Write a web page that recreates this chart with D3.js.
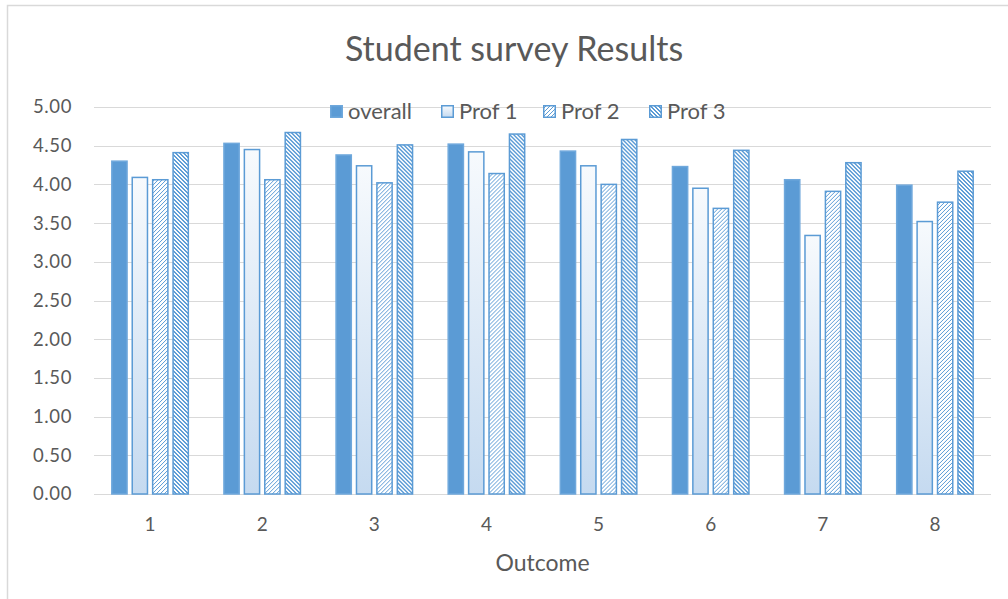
<!DOCTYPE html>
<html>
<head>
<meta charset="utf-8">
<script src="https://cdn.jsdelivr.net/npm/d3@7"></script>
<style>
  html, body { margin: 0; padding: 0; background: #fff; }
  svg { display: block; font-family: Lato, "Open Sans", sans-serif; }
</style>
</head>
<body>
<svg id="chart" width="1008" height="599"></svg>
<script>
// Survey outcomes and the mean score for each respondent group
const outcomes = ["1", "2", "3", "4", "5", "6", "7", "8"];
const seriesNames = ["overall", "Prof 1", "Prof 2", "Prof 3"];
const overall = [4.31, 4.54, 4.39, 4.53, 4.44, 4.24, 4.07, 4.00];
const prof1   = [4.10, 4.46, 4.25, 4.43, 4.25, 3.96, 3.35, 3.53];
const prof2   = [4.07, 4.07, 4.03, 4.15, 4.01, 3.70, 3.92, 3.78];
const prof3   = [4.42, 4.68, 4.52, 4.66, 4.59, 4.45, 4.29, 4.18];
const yTicks  = [0, 0.5, 1, 1.5, 2, 2.5, 3, 3.5, 4, 4.5, 5];

const seriesValues = [overall, prof1, prof2, prof3];
const blue = "#5B9BD5";
const textColor = "#595959";
const gridColor = "#D9D9D9";

const svg = d3.select("#chart");
const defs = svg.append("defs");

// Prof 1: white-to-pale-blue vertical gradient
const grad = defs.append("linearGradient")
  .attr("id", "fillProf1").attr("x1", 0).attr("y1", 0).attr("x2", 0).attr("y2", 1);
grad.append("stop").attr("offset", "0%").attr("stop-color", "#F7FAFD");
grad.append("stop").attr("offset", "100%").attr("stop-color", "#C5DAF0");

// Prof 2: light upward diagonal hatch (1px pixel diagonal)
const p2 = defs.append("pattern").attr("id", "fillProf2")
  .attr("patternUnits", "userSpaceOnUse").attr("width", 4).attr("height", 4);
p2.append("rect").attr("width", 4).attr("height", 4).attr("fill", "#fff");
[[3, 0], [2, 1], [1, 2], [0, 3]].forEach(([x, y]) =>
  p2.append("rect").attr("x", x).attr("y", y).attr("width", 1).attr("height", 1).attr("fill", blue));

// Prof 3: wide downward diagonal hatch
const p3 = defs.append("pattern").attr("id", "fillProf3")
  .attr("patternUnits", "userSpaceOnUse").attr("width", 4).attr("height", 4);
p3.append("rect").attr("width", 4).attr("height", 4).attr("fill", "#fff");
for (let y = 0; y < 4; y++) {
  for (let x = 0; x < 4; x++) {
    if (((x - y) % 4 + 4) % 4 <= 1) {
      p3.append("rect").attr("x", x).attr("y", y).attr("width", 1).attr("height", 1).attr("fill", blue);
    }
  }
}

const fills = [blue, "url(#fillProf1)", "url(#fillProf2)", "url(#fillProf3)"];
const strokes = ["#6FA8DC", blue, blue, blue];

// Chart area frame (left and top edges visible)
svg.append("path")
  .attr("d", "M7.5,599 L7.5,5.5 L1008,5.5")
  .attr("fill", "none").attr("stroke", gridColor).attr("stroke-width", 1.5);

const plot = { left: 94, right: 991, top: 107, bottom: 494 };

const x0 = d3.scaleBand().domain(outcomes).range([plot.left, plot.right]).padding(0);
const y = d3.scaleLinear().domain([0, 5]).range([plot.bottom, plot.top]);
const groupHalf = 39;
const x1 = d3.scaleBand().domain(seriesNames).range([-groupHalf, groupHalf]).paddingInner(0.18).paddingOuter(0);

// Horizontal gridlines
svg.append("g")
  .selectAll("line").data(yTicks).join("line")
  .attr("x1", plot.left).attr("x2", plot.right)
  .attr("y1", d => Math.round(y(d)) + 0.5).attr("y2", d => Math.round(y(d)) + 0.5)
  .attr("stroke", gridColor).attr("stroke-width", 1.2);

// Y axis labels
const yAxis = d3.axisLeft(y).tickValues(yTicks).tickFormat(d3.format(".2f")).tickSize(0).tickPadding(0);
const gy = svg.append("g").attr("transform", `translate(72,0)`).call(yAxis);
gy.select(".domain").remove();
gy.selectAll("text").attr("fill", textColor).attr("font-size", 18.5)
  .attr("letter-spacing", "0.6px").attr("font-family", "Lato, sans-serif");

// X axis labels
const xAxis = d3.axisBottom(x0).tickSize(0).tickPadding(0);
const gx = svg.append("g").attr("transform", `translate(0,${plot.bottom})`).call(xAxis);
gx.select(".domain").remove();
gx.selectAll("text").attr("fill", textColor).attr("font-size", 19)
  .attr("font-family", "Lato, sans-serif")
  .attr("dy", null).attr("y", 37);

// Bars
const rows = outcomes.map((o, i) => ({ outcome: o, vals: seriesValues.map((s, k) => ({ key: k, name: seriesNames[k], value: s[i] })) }));
const groups = svg.append("g").selectAll("g").data(rows).join("g")
  .attr("transform", d => `translate(${x0(d.outcome) + x0.bandwidth() / 2},0)`);
groups.selectAll("rect").data(d => d.vals).join("rect")
  .attr("x", d => x1(d.name) + 0.75)
  .attr("width", x1.bandwidth() - 1.5)
  .attr("y", d => y(d.value) + 0.75)
  .attr("height", d => plot.bottom - y(d.value) - 0.75)
  .attr("fill", d => fills[d.key])
  .attr("stroke", d => strokes[d.key])
  .attr("stroke-width", 1.5);

// Title
svg.append("text")
  .attr("x", 514).attr("y", 61)
  .attr("text-anchor", "middle")
  .attr("fill", textColor).attr("font-size", 34)
  .text("Student survey Results");

// X axis title
svg.append("text")
  .attr("x", (plot.left + plot.right) / 2).attr("y", 571)
  .attr("text-anchor", "middle")
  .attr("fill", textColor).attr("font-size", 23)
  .text("Outcome");

// Legend
const legendX = [330, 441, 543, 649];
const legend = svg.append("g").selectAll("g").data(seriesNames).join("g")
  .attr("transform", (d, i) => `translate(${legendX[i]},105)`);
legend.append("rect")
  .attr("x", 0.75).attr("y", 0.75).attr("width", 11.5).attr("height", 11.5)
  .attr("fill", (d, i) => fills[i])
  .attr("stroke", (d, i) => strokes[i]).attr("stroke-width", 1.5);
legend.append("text")
  .attr("x", 18).attr("y", 13.5)
  .attr("fill", textColor).attr("font-size", 22)
  .text(d => d);
</script>
</body>
</html>
